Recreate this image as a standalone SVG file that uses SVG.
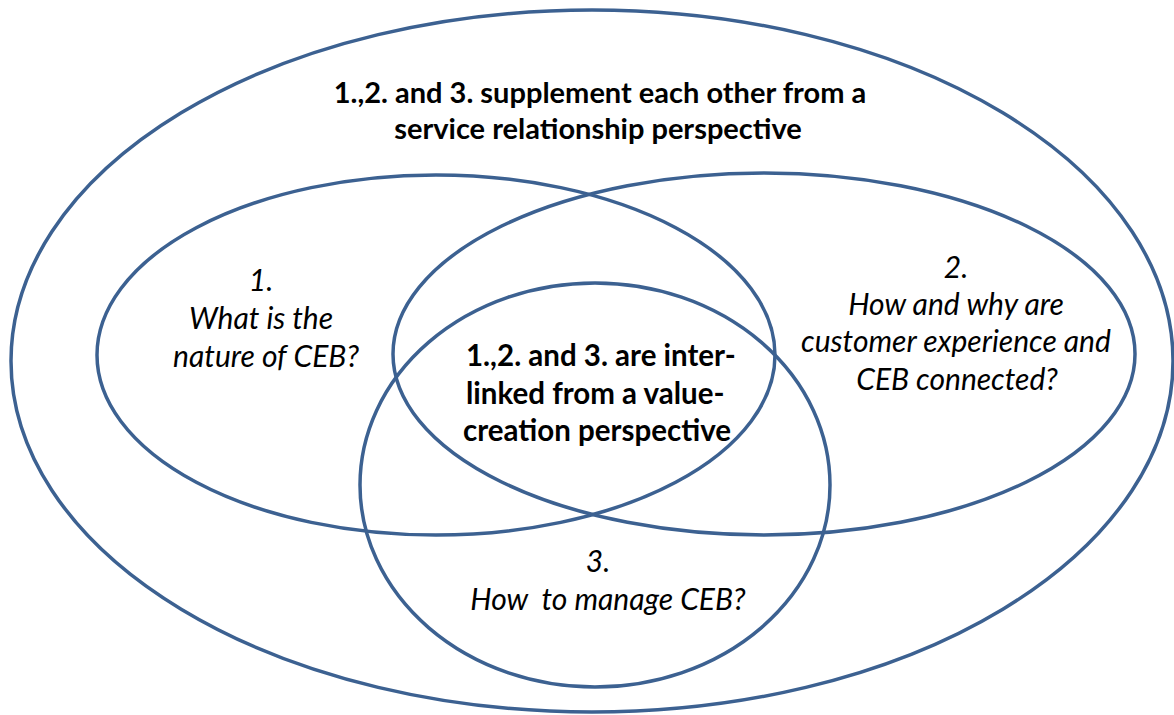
<svg xmlns="http://www.w3.org/2000/svg" width="1174" height="715" viewBox="0 0 1174 715">
<style>
.e{fill:none;stroke:#3C6191;stroke-width:3.5}
.b{font-family:Lato,"Liberation Sans",sans-serif;font-weight:bold;font-size:29px;fill:#000}
.c{font-size:29.5px}
.i{font-family:Lato,"Liberation Sans",sans-serif;font-style:italic;font-size:30px;fill:#000;text-anchor:middle;white-space:pre}
</style>
<rect width="1174" height="715" fill="#fff"/>
<g id="outer">
<ellipse class="e" cx="592" cy="361" rx="581" ry="351"/>
<text class="b" text-anchor="middle" x="600" y="103">1.,2. and 3. supplement each other from a</text>
<text class="b" text-anchor="middle" x="598" y="139">service relationship perspective</text>
</g>
<g id="n1">
<ellipse class="e" cx="436" cy="355" rx="339" ry="180"/>
<text class="i" x="261" y="291">1.</text>
<text class="i" x="261" y="329">What is the</text>
<text class="i" x="266" y="367">nature of CEB?</text>
</g>
<g id="n2">
<ellipse class="e" cx="764" cy="354" rx="371" ry="181"/>
<text class="i" x="956" y="278">2.</text>
<text class="i" x="956" y="315">How and why are</text>
<text class="i" x="956" y="352">customer experience and</text>
<text class="i" x="957" y="390">CEB connected?</text>
</g>
<g id="n3">
<ellipse class="e" cx="595" cy="485" rx="235" ry="202"/>
<text class="i" x="598" y="572">3.</text>
<text class="i" x="608" y="610">How  to manage CEB?</text>
</g>
<g id="center">
<text class="b c" x="466" y="366">1.,2. and 3. are inter-</text>
<text class="b c" x="466" y="404">linked from a value-</text>
<text class="b c" x="463" y="441">creation perspective</text>
</g>
</svg>
